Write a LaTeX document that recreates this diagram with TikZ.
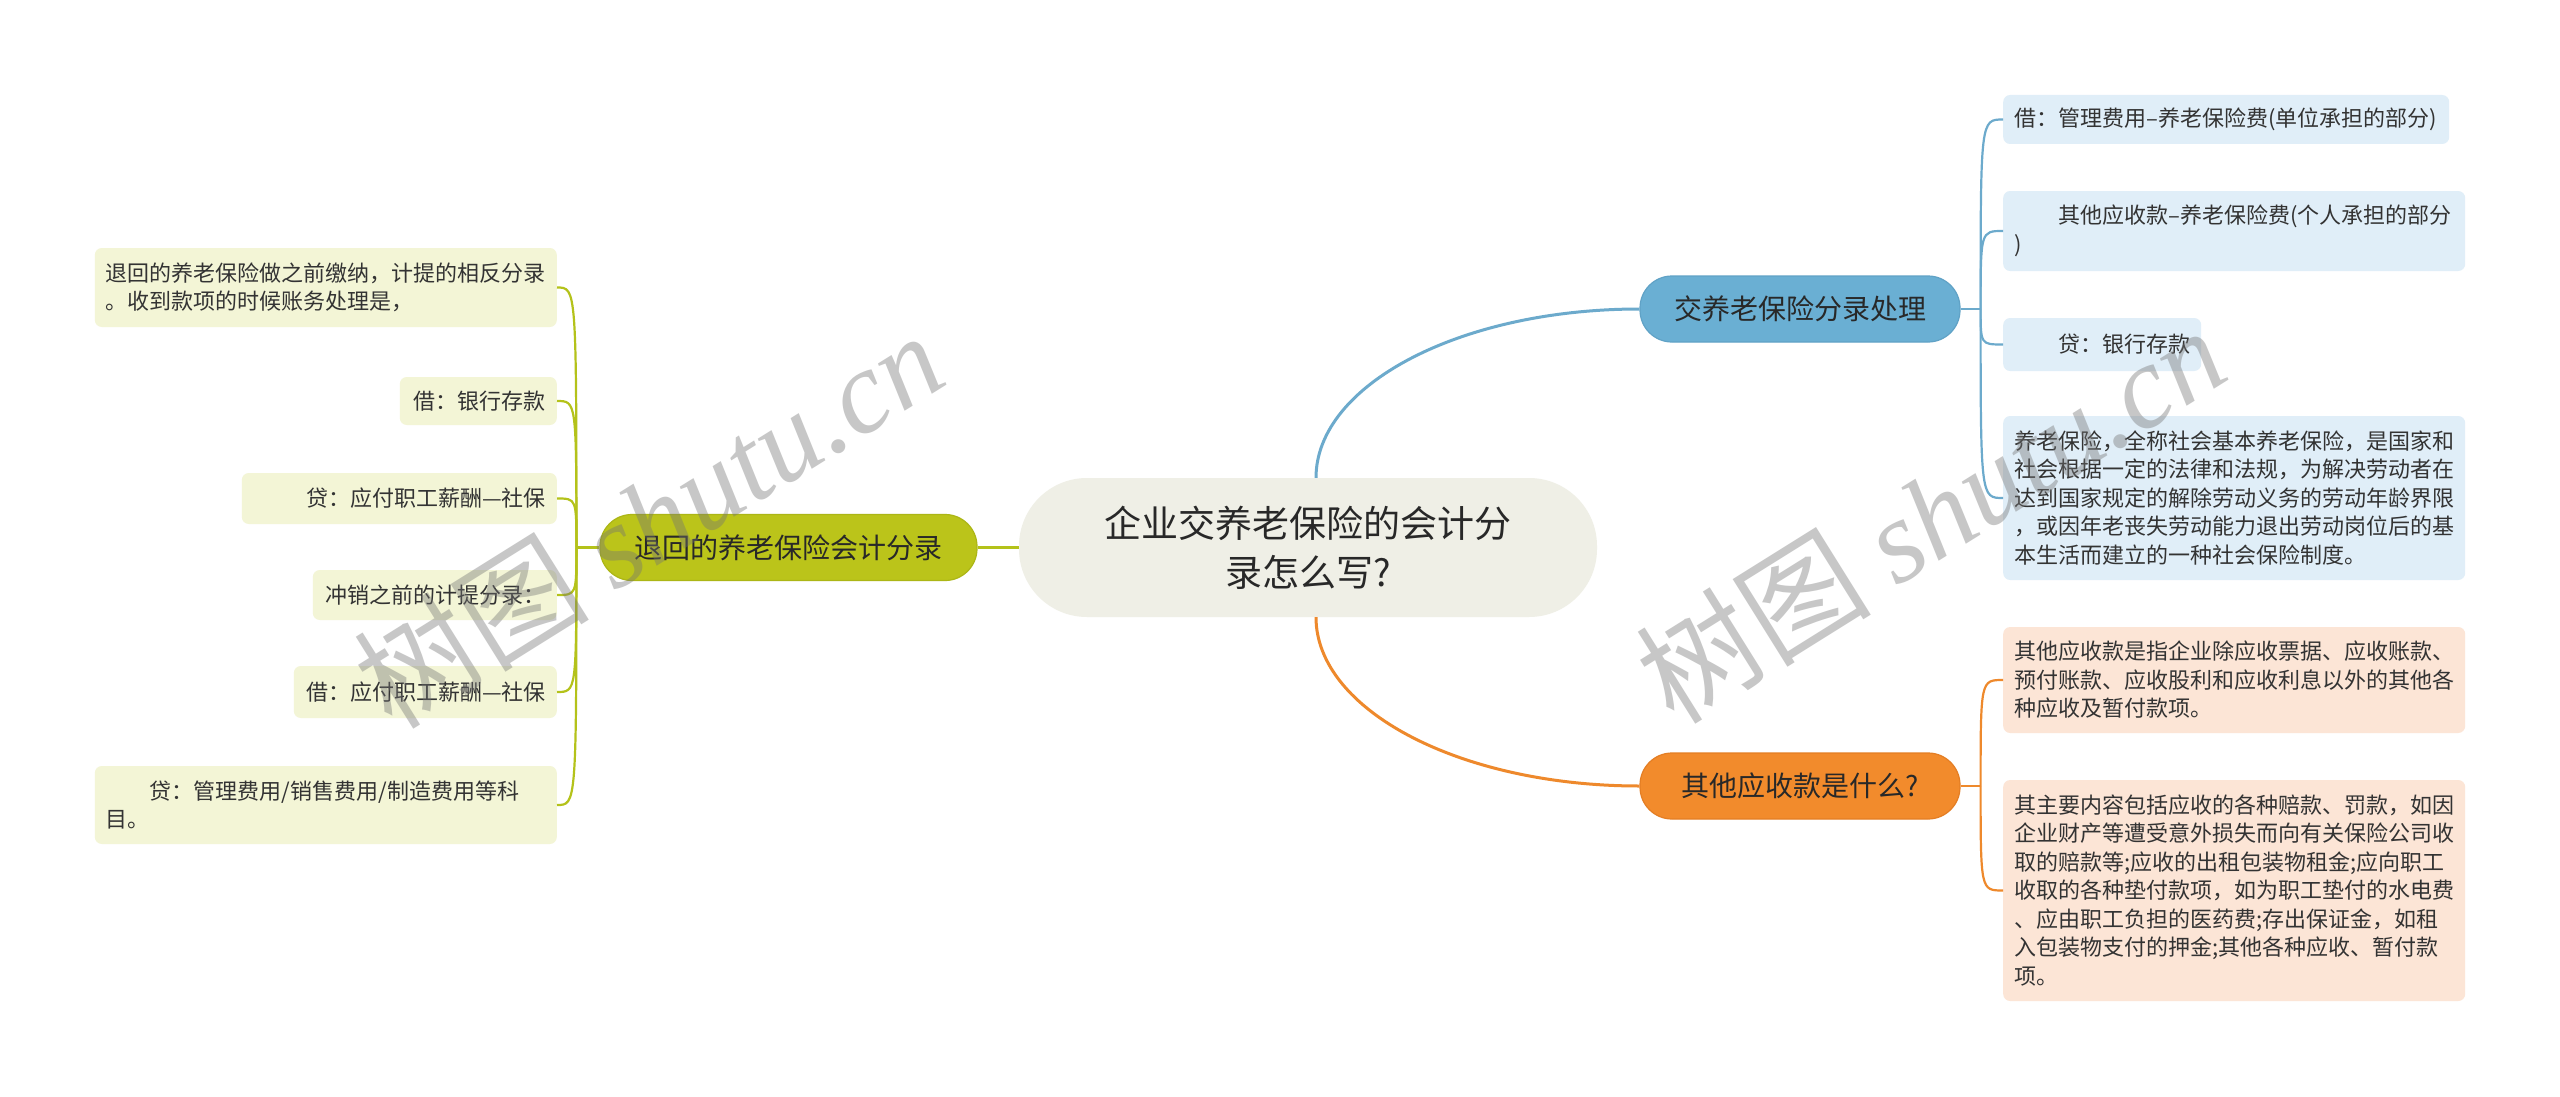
\documentclass[tikz,border=0pt]{standalone}
\usepackage{fontspec}
\setmainfont{Noto Sans CJK SC}
\newfontfamily\wmlatin{Liberation Serif}
\usetikzlibrary{calc}
\definecolor{centralfill}{RGB}{239,239,230}
\definecolor{olivemain}{RGB}{187,196,26}
\definecolor{oliveborder}{RGB}{172,182,22}
\definecolor{bluemain}{RGB}{106,175,211}
\definecolor{blueborder}{RGB}{96,162,198}
\definecolor{orangemain}{RGB}{242,139,44}
\definecolor{orangeborder}{RGB}{228,126,36}
\definecolor{oliveleaf}{RGB}{243,245,214}
\definecolor{blueleaf}{RGB}{224,238,248}
\definecolor{orangeleaf}{RGB}{252,229,214}
\definecolor{oliveline}{RGB}{180,194,26}
\definecolor{blueline}{RGB}{108,170,204}
\definecolor{orangeline}{RGB}{238,137,44}
\definecolor{txt}{RGB}{51,51,51}
\definecolor{maintxt}{RGB}{40,40,40}
\tikzset{
  leafbase/.style={rounded corners=7pt, inner xsep=11pt, inner ysep=0pt, text=txt,
    font=\fontsize{22}{28.5}\selectfont},
  oleaf/.style={leafbase, fill=oliveleaf, anchor=east},
  bleaf/.style={leafbase, fill=blueleaf, anchor=west, align=left},
  rleaf/.style={leafbase, fill=orangeleaf, anchor=west, align=left},
  mainbox/.style={font=\fontsize{28}{34}\selectfont, text=maintxt, minimum height=66pt,
    rounded corners=32pt, line width=1.2pt, inner sep=0pt},
  mainline/.style={line width=3pt},
  leafline/.style={line width=2.2pt},
  watermark/.style={rotate=32, text=black!55, opacity=0.4, font=\fontsize{118}{130}\selectfont}
}
\begin{document}
\begin{tikzpicture}[x=1pt,y=-1pt]
\useasboundingbox (0,0) rectangle (2560,1097);
\fill[white] (0,0) rectangle (2560,1097);

% central
\node[fill=centralfill, rounded corners=68pt, minimum width=578pt, minimum height=139pt,
  align=center, font=\fontsize{37}{49}\selectfont, text=maintxt, inner sep=0pt]
  (C) at (1308,547.5) {企业交养老保险的会计分\\录怎么写?};

% main branches
\node[mainbox, fill=olivemain, draw=oliveborder, minimum width=377pt] (OL) at (788.5,547.5) {退回的养老保险会计分录};
\node[mainbox, fill=bluemain, draw=blueborder, minimum width=320pt] (B) at (1800,309) {交养老保险分录处理};
\node[mainbox, fill=orangemain, draw=orangeborder, minimum width=320pt] (O) at (1800,786) {其他应收款是什么?};

% left leaves
\node[oleaf, align=left, text width=440pt, minimum height=79pt] (L1) at (557,287.5)
  {退回的养老保险做之前缴纳，计提的相反分录\\。收到款项的时候账务处理是，};
\node[oleaf, align=right, text width=135pt, minimum height=48pt] (L2) at (557,401) {借：银行存款};
\node[oleaf, align=right, text width=293pt, minimum height=51pt] (L3) at (557,498.5) {贷：应付职工薪酬—社保};
\node[oleaf, align=right, text width=222pt, minimum height=50pt] (L4) at (557,595) {冲销之前的计提分录：};
\node[oleaf, align=right, text width=241pt, minimum height=52pt] (L5) at (557,692) {借：应付职工薪酬—社保};
\node[oleaf, align=left, text width=440pt, minimum height=78pt] (L6) at (557,805)
  {\hspace*{2em}贷：管理费用/销售费用/制造费用等科\\目。};

% blue leaves
\node[bleaf, text width=424pt, minimum height=49pt] (R1) at (2003,119.5) {借：管理费用–养老保险费(单位承担的部分)};
\node[bleaf, text width=440pt, minimum height=80pt] (R2) at (2003,231)
  {\hspace*{2em}其他应收款–养老保险费(个人承担的部分\\)};
\node[bleaf, text width=176pt, minimum height=53pt] (R3) at (2003,344.5) {\hspace*{2em}贷：银行存款};
\node[bleaf, text width=440pt, minimum height=164pt] (R4) at (2003,498)
  {养老保险，全称社会基本养老保险，是国家和\\社会根据一定的法律和法规，为解决劳动者在\\达到国家规定的解除劳动义务的劳动年龄界限\\，或因年老丧失劳动能力退出劳动岗位后的基\\本生活而建立的一种社会保险制度。};

% orange leaves
\node[rleaf, text width=440pt, minimum height=106pt] (O1) at (2003,680)
  {其他应收款是指企业除应收票据、应收账款、\\预付账款、应收股利和应收利息以外的其他各\\种应收及暂付款项。};
\node[rleaf, text width=440pt, minimum height=221pt] (O2) at (2003,890.5)
  {其主要内容包括应收的各种赔款、罚款，如因\\企业财产等遭受意外损失而向有关保险公司收\\取的赔款等;应收的出租包装物租金;应向职工\\收取的各种垫付款项，如为职工垫付的水电费\\、应由职工负担的医药费;存出保证金，如租\\入包装物支付的押金;其他各种应收、暂付款\\项。};

% main connectors
\draw[oliveline, mainline] (C.west) -- (OL.east);
\draw[blueline, mainline] ($(C.north)+(8,0)$) .. controls +(0,-93) and +(-179,0) .. (B.west);
\draw[orangeline, mainline] ($(C.south)+(8,0)$) .. controls +(0,93) and +(-179,0) .. (O.west);

% spines
\coordinate (OLs) at ($(OL.west)+(-23,0)$);
\coordinate (Bs) at ($(B.east)+(20,0)$);
\coordinate (Os) at ($(O.east)+(20,0)$);
\draw[oliveline, leafline] (OL.west) -- (OLs);
\draw[blueline, leafline] (B.east) -- (Bs);
\draw[orangeline, leafline] (O.east) -- (Os);

\foreach \n in {L1,L2,L3,L4,L5,L6}
  \draw[oliveline, leafline] (OLs) .. controls (OLs |- \n.east) .. (\n.east);
\foreach \n in {R1,R2,R3,R4}
  \draw[blueline, leafline] (Bs) .. controls (Bs |- \n.west) .. (\n.west);
\foreach \n in {O1,O2}
  \draw[orangeline, leafline] (Os) .. controls (Os |- \n.west) .. (\n.west);

% watermarks
\node[watermark] (W1) at (648,519) {树图 {\wmlatin\itshape shutu.cn}};
\node[watermark] (W2) at (1930,514) {树图 {\wmlatin\itshape shutu.cn}};
\end{tikzpicture}
\end{document}
